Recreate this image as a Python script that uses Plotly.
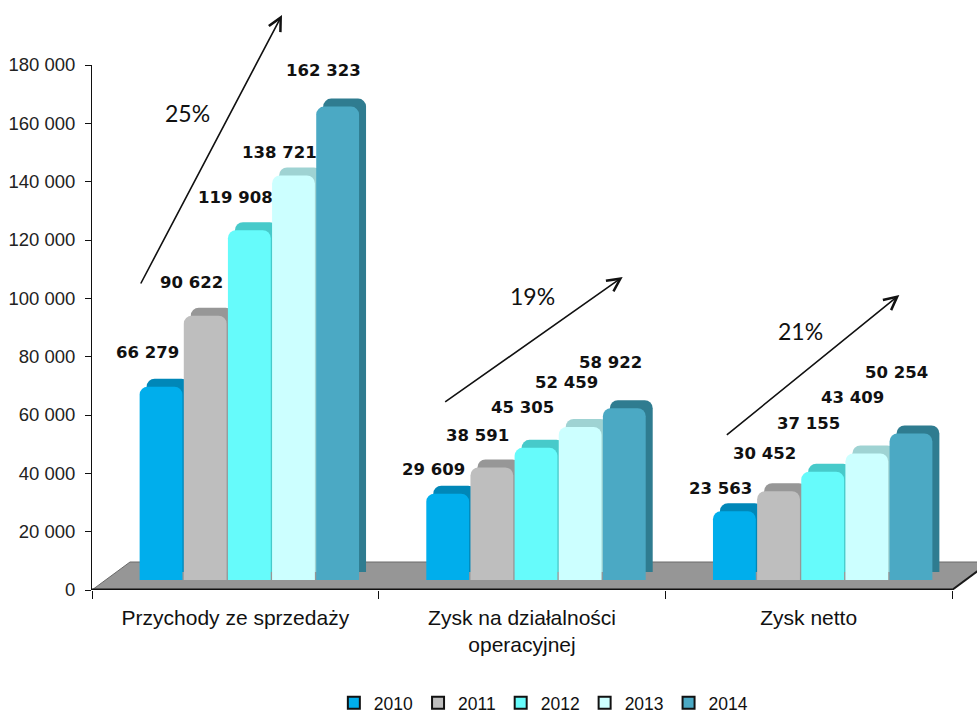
import plotly.graph_objects as go

# ---- data -------------------------------------------------------------
categories = ["Przychody ze sprzedaży", "Zysk na działalności<br>operacyjnej", "Zysk netto"]
years = ["2010", "2011", "2012", "2013", "2014"]
values_2010 = [66279, 29609, 23563]
values_2011 = [90622, 38591, 30452]
values_2012 = [119908, 45305, 37155]
values_2013 = [138721, 52459, 43409]
values_2014 = [162323, 58922, 50254]
growth_labels = ["25%", "19%", "21%"]
y_ticks = [0, 20000, 40000, 60000, 80000, 100000, 120000, 140000, 160000, 180000]

series_values = [values_2010, values_2011, values_2012, values_2013, values_2014]

# ---- styling ----------------------------------------------------------
W, H = 977, 713
M_L, M_R, M_T, M_B = 92, 0, 65, 123
PLOT_W = W - M_L - M_R
PLOT_H = H - M_T - M_B
PX_PER_CAT = 286.67            # one category slot in pixels
Y_MAX = 180000
X_MAX = PLOT_W / PX_PER_CAT

front_colors = ["#00AEEC", "#BEBEBE", "#66FBFB", "#CCFFFF", "#4BA9C4"]
depth_colors = ["#0087B8", "#979797", "#47CACA", "#9FD3D3", "#2F7C90"]

BARGAP = 0.23
SLOT = (1 - BARGAP) / len(years)


def dx(px):
    return px / PX_PER_CAT


def dy(px):
    return px * Y_MAX / PLOT_H


centers = [i + 0.5 for i in range(len(categories))]

# pixel lift of every value label above its value (per category, per year)
label_lift = [
    [44, 43, 43, 33, 46],
    [34, 42, 50, 54, 56],
    [33, 48, 58, 66, 71],
]

fig = go.Figure()

# depth faces (top / side), on the lower overlay so the front faces cover them
for s, year in enumerate(years):
    fig.add_trace(go.Bar(
        x=centers, y=series_values[s], xaxis="x2", yaxis="y2",
        marker=dict(color=depth_colors[s], cornerradius=8, line=dict(width=0)),
        showlegend=False, hoverinfo="skip",
    ))

# front faces
for s, year in enumerate(years):
    fig.add_trace(go.Bar(
        x=centers, y=series_values[s], xaxis="x3", yaxis="y3", name=year,
        marker=dict(color=front_colors[s], cornerradius=8, line=dict(width=0)),
        showlegend=False,
    ))

# legend entries
for s, year in enumerate(years):
    fig.add_trace(go.Scatter(
        x=[None], y=[None], mode="markers", name=year,
        marker=dict(symbol="square", size=12, color=front_colors[s],
                    line=dict(color="#111111", width=2)),
    ))

annotations = []

# value labels
for c in range(len(categories)):
    for s in range(len(years)):
        v = series_values[s][c]
        annotations.append(dict(
            x=centers[c] + (s - 2) * SLOT, y=v, xref="x", yref="y",
            text=f"{v:,}".replace(",", " "), showarrow=False,
            xanchor="center", yanchor="middle", yshift=label_lift[c][s],
            font=dict(family="DejaVu Sans", size=16.5, color="#111111", weight="bold"),
        ))

# growth arrows: (tail x, tail y, head x, head y) in axis units
arrows = [
    (dx(48), dy(305), dx(190), dy(575)),
    (1 + dx(65), dy(187), 1 + dx(244), dy(313)),
    (2 + dx(60), dy(154), 2 + dx(234), dy(295)),
]
growth_pos = [(dx(95), dy(477)), (1 + dx(154), dy(294)), (2 + dx(135), dy(259))]

for (tx, ty, hx, hy) in arrows:
    annotations.append(dict(
        x=hx, y=hy, ax=tx, ay=ty, xref="x", yref="y", axref="x", ayref="y",
        showarrow=True, arrowhead=5, arrowsize=1.6, arrowwidth=1.6,
        arrowcolor="#111111", text="",
    ))

for (gx, gy), txt in zip(growth_pos, growth_labels):
    annotations.append(dict(
        x=gx, y=gy, xref="x", yref="y", text=txt, showarrow=False,
        font=dict(family="Lato", size=23, color="#111111"),
    ))

# floor and axis edge
floor_depth_x = dx(38)
floor_depth_y = dy(28)
shapes = [
    dict(type="path", xref="x", yref="y", layer="below",
         path=(f"M0,0 L3,0 L{3 + floor_depth_x},{floor_depth_y} "
               f"L{floor_depth_x},{floor_depth_y} Z"),
         fillcolor="#969696", line=dict(color="#6A6A6A", width=1)),
    dict(type="line", xref="x", yref="y", layer="above",
         x0=3, y0=0, x1=3 + floor_depth_x, y1=floor_depth_y,
         line=dict(color="#1A1A1A", width=2)),
    dict(type="line", xref="x", yref="y", layer="above",
         x0=0, y0=0, x1=3, y1=0, line=dict(color="#111111", width=3)),
]

fig.update_layout(
    width=W, height=H, autosize=False,
    margin=dict(l=M_L, r=M_R, t=M_T, b=M_B, pad=0, autoexpand=False),
    paper_bgcolor="white", plot_bgcolor="white",
    barmode="group", bargap=BARGAP, bargroupgap=0.03,
    separators=", ",
    font=dict(family="Liberation Sans", color="#111111"),
    xaxis=dict(
        range=[0, X_MAX], tickvals=centers, ticktext=categories,
        showgrid=False, zeroline=False, showline=False, ticks="",
        ticklabelstandoff=13,
        tickfont=dict(family="Liberation Sans", size=21, color="#111111"),
        minor=dict(tickvals=[0, 1, 2, 3], ticks="outside", ticklen=8,
                   tickcolor="#111111", tickwidth=1, showgrid=False),
        fixedrange=True,
    ),
    yaxis=dict(
        range=[0, Y_MAX], tickvals=y_ticks, tickformat=",d",
        showgrid=False, zeroline=False, showline=True, linecolor="#111111",
        linewidth=1, ticks="outside", ticklen=6, tickcolor="#111111",
        ticklabelstandoff=6,
        tickfont=dict(family="Liberation Sans", size=18.5, color="#222222"),
        fixedrange=True,
    ),
    xaxis2=dict(overlaying="x", anchor="y2", visible=False,
                range=[-dx(21), X_MAX - dx(21)]),
    yaxis2=dict(overlaying="y", anchor="x2", visible=False,
                range=[-dy(18), Y_MAX - dy(18)]),
    xaxis3=dict(overlaying="x", anchor="y3", visible=False,
                range=[-dx(14), X_MAX - dx(14)]),
    yaxis3=dict(overlaying="y", anchor="x3", visible=False,
                range=[-dy(10), Y_MAX - dy(10)]),
    legend=dict(
        orientation="h", x=0.51, xanchor="center", y=-0.215, yanchor="middle",
        font=dict(family="Liberation Sans", size=17.5, color="#111111"),
        itemwidth=30, bgcolor="rgba(0,0,0,0)",
    ),
    annotations=annotations,
    shapes=shapes,
    showlegend=True,
)

fig.write_html("out.html")
